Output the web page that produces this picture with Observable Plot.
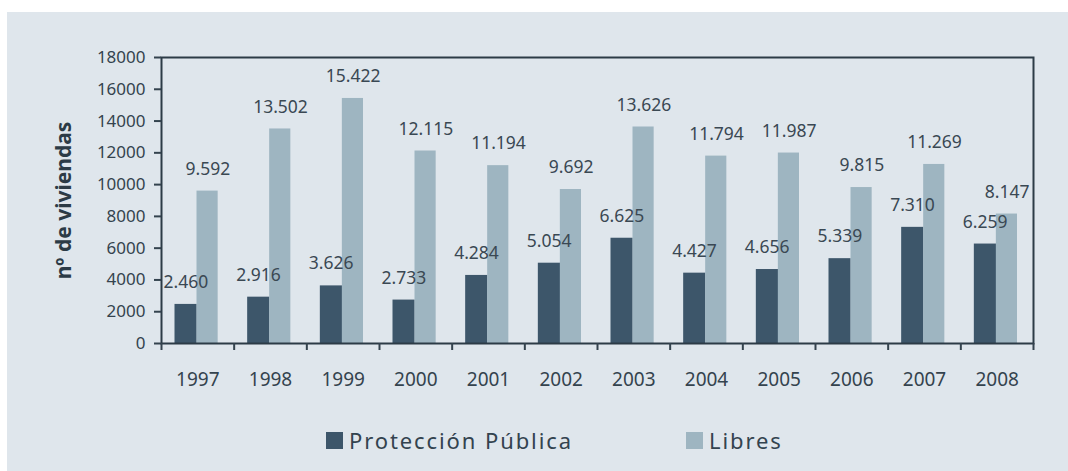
<!DOCTYPE html>
<html>
<head>
<meta charset="utf-8">
<script src="https://cdn.jsdelivr.net/npm/d3@7"></script>
<script src="https://cdn.jsdelivr.net/npm/@observablehq/plot@0.6"></script>
<style>
  html, body { margin: 0; padding: 0; background: #ffffff; }
  #panel { position: absolute; left: 7px; top: 12px; width: 1061px; height: 459px; background: #dfe6ec; overflow: hidden; }
  #chart { position: absolute; left: 0; top: 0; }
  .item { position: absolute; top: 413px; display: flex; align-items: center; font-family: "Noto Sans", sans-serif; font-size: 22px; color: #33434f; letter-spacing: 1.9px; }
  .sw { width: 17px; height: 17px; margin-right: 6px; }
</style>
</head>
<body>
<div id="panel">
  <div id="chart"></div>
  <div id="legend"></div>
</div>
<script>
const years = [1997, 1998, 1999, 2000, 2001, 2002, 2003, 2004, 2005, 2006, 2007, 2008];
const proteccion = [2460, 2916, 3626, 2733, 4284, 5054, 6625, 4427, 4656, 5339, 7310, 6259];
const libres = [9592, 13502, 15422, 12115, 11194, 9692, 13626, 11794, 11987, 9815, 11269, 8147];
const yTicks = [0, 2000, 4000, 6000, 8000, 10000, 12000, 14000, 16000, 18000];
const seriesNames = ["Protección Pública", "Libres"];
const yLabel = "nº de viviendas";

const darkColor = "#3d566a";
const lightColor = "#9eb5c1";
const inkColor = "#34434e";

const protData = years.map((y, i) => ({year: y, value: proteccion[i]}));
const libData = years.map((y, i) => ({year: y, value: libres[i]}));
const boundaries = years.map(y => y - 0.5).concat([years[years.length - 1] + 0.5]);
const fmt = d => d3.format(",")(d).replace(/,/g, ".");

const chart = Plot.plot({
  width: 1061,
  height: 395,
  marginLeft: 154,
  marginRight: 35,
  marginTop: 45,
  marginBottom: 64,
  style: {background: "transparent", fontFamily: "'Noto Sans', sans-serif", color: inkColor, overflow: "visible"},
  x: {domain: [years[0] - 0.5, years[years.length - 1] + 0.5]},
  y: {domain: [0, 18000]},
  marks: [
    Plot.rectY(protData, {x1: d => d.year - 0.5, x2: d => d.year + 0.5, y: "value", fill: darkColor, insetLeft: 13.5, insetRight: 37}),
    Plot.rectY(libData, {x1: d => d.year - 0.5, x2: d => d.year + 0.5, y: "value", fill: lightColor, insetLeft: 35.5, insetRight: 16}),
    Plot.frame({stroke: "#2c3b46", strokeWidth: 2}),
    Plot.axisY({ticks: yTicks, tickSize: 7, tickPadding: 9, fontSize: 17, tickFormat: d3.format("d"), label: null, strokeWidth: 2}),
    Plot.axisX({ticks: boundaries, tickSize: 7, tickFormat: () => "", label: null, strokeWidth: 2}),
    Plot.axisX({ticks: years, tickSize: 0, tickPadding: 29, fontSize: 19, tickFormat: d => String(d), label: null}),
    Plot.text(protData, {x: "year", y: "value", text: d => fmt(d.value), dx: -12, dy: -22, fontSize: 17.5, fill: "#3a4853"}),
    Plot.text(libData, {x: "year", y: "value", text: d => fmt(d.value), dx: 10, dy: -22, fontSize: 17.5, fill: "#3a4853"}),
    Plot.text([yLabel], {frameAnchor: "left", textAnchor: "middle", text: d => d, dx: -97, rotate: -90, fontSize: 21, fontWeight: "bold", fill: "#2c3b46"})
  ]
});
document.getElementById("chart").appendChild(chart);

const legend = document.getElementById("legend");
const legendColors = [darkColor, lightColor];
const legendLefts = [319, 679];
seriesNames.forEach((name, i) => {
  const item = document.createElement("div");
  item.className = "item";
  item.style.left = legendLefts[i] + "px";
  const sw = document.createElement("div");
  sw.className = "sw";
  sw.style.background = legendColors[i];
  const label = document.createElement("span");
  label.textContent = name;
  item.appendChild(sw);
  item.appendChild(label);
  legend.appendChild(item);
});
</script>
</body>
</html>
